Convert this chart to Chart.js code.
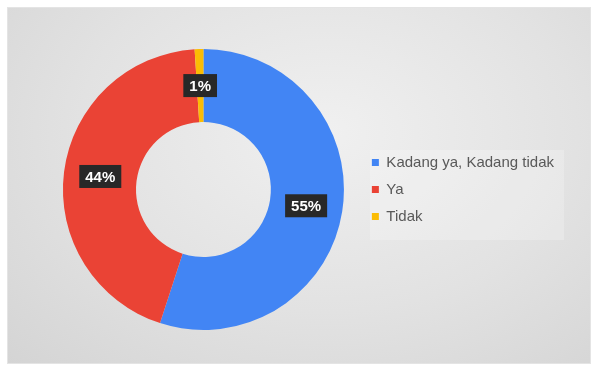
<!DOCTYPE html>
<html lang="id">
<head>
    <meta charset="UTF-8">
    <title>Donut chart</title>
    <script src="https://cdn.jsdelivr.net/npm/chart.js@4.4.1/dist/chart.umd.min.js"></script>
    <style>
        body {
            margin: 0;
            width: 597px;
            height: 370px;
            background: #ffffff;
            overflow: hidden;
            font-family: 'Liberation Sans', Arial, sans-serif;
        }

        .frame {
            position: absolute;
            left: 7px;
            top: 7px;
            width: 582px;
            height: 355px;
            border: 1px solid #e4e4e4;
            background: radial-gradient(ellipse at 55% 35%, #f0f0f0 0%, #e2e2e2 55%, #d4d4d4 100%);
        }

        .legend-bg {
            position: absolute;
            left: 362px;
            top: 142px;
            width: 194px;
            height: 90px;
            background: rgba(255, 255, 255, 0.22);
        }

        canvas {
            position: absolute;
            left: 0;
            top: 0;
        }
    </style>
</head>
<body>

<div class="frame">
    <div class="legend-bg"></div>
    <canvas id="myChart" width="582" height="355"></canvas>
</div>

<script>
    const labels = ['Kadang ya, Kadang tidak', 'Ya', 'Tidak']
    const values = [55, 44, 1]
    const colors = ['#4285f4', '#ea4335', '#fbbc04']

    // dark boxes with the percentages, placed at each arc's centre
    const percentLabels = {
        id: 'percentLabels',
        afterDatasetsDraw(chart) {
            const ctx = chart.ctx
            const meta = chart.getDatasetMeta(0)
            ctx.save()
            ctx.font = 'bold 15px "Liberation Sans", Arial, sans-serif'
            ctx.textAlign = 'center'
            ctx.textBaseline = 'middle'
            meta.data.forEach((arc, i) => {
                const p = arc.getCenterPoint()
                const txt = values[i] + '%'
                const w = ctx.measureText(txt).width + 12
                const h = 23
                ctx.fillStyle = '#282828'
                ctx.fillRect(p.x - w / 2, p.y - h / 2, w, h)
                ctx.fillStyle = '#ffffff'
                ctx.fillText(txt, p.x, p.y + 1)
            })
            ctx.restore()
        }
    }

    const ctx = document.getElementById('myChart').getContext('2d')
    const myChart = new Chart(ctx, {
        type: 'doughnut',
        data: {
            labels,
            datasets: [{
                data: values,
                backgroundColor: colors,
                borderWidth: 0
            }]
        },
        options: {
            responsive: false,
            animation: false,
            cutout: '48%',
            layout: {
                padding: {top: 41, bottom: 33, left: 39, right: 26}
            },
            plugins: {
                tooltip: {enabled: false},
                legend: {
                    position: 'right',
                    labels: {
                        boxWidth: 7,
                        boxHeight: 7,
                        padding: 12,
                        color: '#595959',
                        font: {family: '"Liberation Sans", Arial, sans-serif', size: 15}
                    }
                }
            }
        },
        plugins: [percentLabels]
    })
</script>
</body>
</html>
